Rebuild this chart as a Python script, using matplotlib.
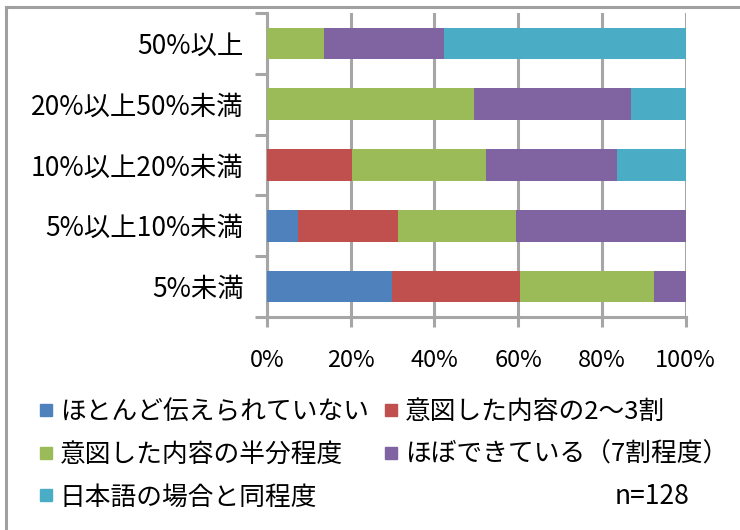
import matplotlib
matplotlib.use("Agg")
import matplotlib.pyplot as plt
import numpy as np
from matplotlib.lines import Line2D

plt.rcParams['font.family'] = ['Noto Sans CJK JP', 'DejaVu Sans']

# categories, bottom to top
categories = ['5%未満', '5%以上10%未満', '10%以上20%未満', '20%以上50%未満', '50%以上']
series_names = ['ほとんど伝えられていない', '意図した内容の2～3割', '意図した内容の半分程度',
                'ほぼできている（7割程度）', '日本語の場合と同程度']
colors = ['#4F81BD', '#C0504D', '#9BBB59', '#8064A2', '#4BACC6']

# shares in %, per category (same order as categories)
hardly = [29.9, 7.5, 0.0, 0.0, 0.0]
two_three = [30.5, 23.8, 20.3, 0.0, 0.0]
half = [32.1, 28.2, 32.0, 49.5, 13.6]
mostly = [7.5, 40.5, 31.4, 37.5, 28.7]
same_as_jp = [0.0, 0.0, 16.3, 13.0, 57.7]
series = [hardly, two_three, half, mostly, same_as_jp]

x_ticks = [0, 20, 40, 60, 80, 100]
x_labels = ['0%', '20%', '40%', '60%', '80%', '100%']

grey = '#A6A6A6'

fig = plt.figure(figsize=(7.4, 5.3), dpi=100)
ax = fig.add_axes([267 / 740, 1 - 317 / 530, (685.7 - 267) / 740, (317 - 13) / 530])

y = np.arange(len(categories))
left = np.zeros(len(categories))
handles = []
for vals, col in zip(series, colors):
    ax.barh(y, vals, left=left, height=0.52, color=col, zorder=3)
    left += np.array(vals)
    handles.append(Line2D([], [], marker='s', linestyle='none', markersize=8,
                          markerfacecolor=col, markeredgecolor=col))

ax.set_xlim(0, 100)
ax.set_ylim(-0.5, len(categories) - 0.5)

ax.set_xticks(x_ticks)
ax.set_xticklabels(x_labels, fontsize=17)
ax.set_yticks(y)
ax.set_yticklabels(categories, fontsize=19)
ax.set_yticks(np.arange(len(categories) + 1) - 0.5, minor=True)

ax.tick_params(axis='x', length=7, width=2.2, color=grey, pad=16, direction='out')
ax.tick_params(axis='y', which='major', length=0, pad=17)
ax.tick_params(axis='y', which='minor', length=9, width=2.2, color=grey, direction='out')

ax.grid(axis='x', color=grey, linewidth=2.2, zorder=1)
ax.set_axisbelow(True)
for s in ['top', 'right']:
    ax.spines[s].set_visible(False)
for s in ['left', 'bottom']:
    ax.spines[s].set_color(grey)
    ax.spines[s].set_linewidth(2.2)

# outer chart frame (only left and top visible)
fig.add_artist(Line2D([6 / 740, 6 / 740], [0, 1 - 7 / 530], color='#A0A0A0', lw=2.2))
fig.add_artist(Line2D([6 / 740, 1], [1 - 7 / 530, 1 - 7 / 530], color='#A0A0A0', lw=2.2))

# legend filled by column: left column 0,2,4 / right column 1,3
order = [0, 2, 4, 1, 3]
fig.legend([handles[i] for i in order], [series_names[i] for i in order], ncol=2,
           loc='upper left', bbox_to_anchor=(16 / 740, 1 - 381 / 530), frameon=False,
           fontsize=18.5, handletextpad=0.1, columnspacing=0.4, labelspacing=0.65,
           handlelength=0.9, borderpad=0.2)

fig.text(615 / 740, 1 - 496 / 530, 'n=128', fontsize=19, va='center', ha='left')

fig.savefig('out.png', dpi=100)
